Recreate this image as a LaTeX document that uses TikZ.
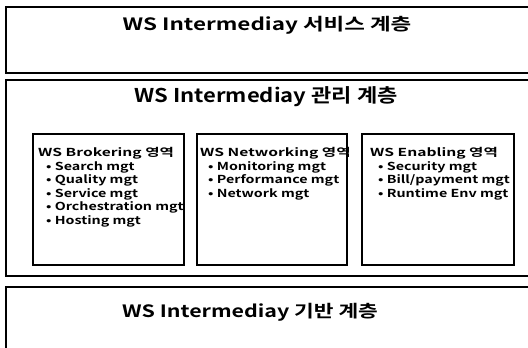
\documentclass[tikz,border=0pt]{standalone}
\usepackage{fontspec}
\setmainfont{Noto Sans CJK KR}[BoldFont=* Bold]
\newfontfamily\listfont{Noto Sans CJK KR Bold}[FakeStretch=1.42]
\newfontfamily\itemfont{Noto Sans CJK KR Bold}[FakeStretch=1.3]
\newfontfamily\titlefontA{Noto Sans CJK KR Bold}[FakeStretch=1.32]
\newfontfamily\titlefontB{Noto Sans CJK KR Bold}[FakeStretch=1.16]
\newfontfamily\titlefontC{Noto Sans CJK KR Bold}[FakeStretch=1.26]
\newcommand{\itm}[1]{\hspace*{8pt}{\itemfont • #1}}
\begin{document}
\begin{tikzpicture}[x=1pt,y=-1pt,
  layer/.style={draw=black,line width=1.6pt},
  area/.style={draw=black,line width=1.4pt},
  titleA/.style={font=\titlefontA\fontsize{17}{20}\selectfont,inner sep=0pt},
  titleB/.style={font=\titlefontB\fontsize{19}{22}\selectfont,inner sep=0pt},
  titleC/.style={font=\titlefontC\fontsize{17}{20}\selectfont,inner sep=0pt},
  list/.style={font=\listfont\fontsize{11}{13.6}\selectfont,align=left,anchor=north west,inner sep=0pt}]
\useasboundingbox (0,0) rectangle (528,348);
% outer layers (open to the right)
\draw[layer] (540,7) -- (6,7) -- (6,73) -- (540,73);
\draw[layer] (540,80) -- (6,80) -- (6,276) -- (540,276);
\draw[layer] (540,287) -- (6,287) -- (6,360);
\node[titleA] (t1) at (267,25) {WS Intermediay 서비스 계층};
\node[titleB] (t2) at (266,97) {WS Intermediay 관리 계층};
\node[titleC] (t3) at (250,312) {WS Intermediay 기반 계층};
% inner areas
\draw[area] (33,134) rectangle (184,265);
\draw[area] (197,134) rectangle (347,265);
\draw[area] (362,134) rectangle (514,265);
\node[list] (a1) at (38,147) {WS Brokering 영역\\\itm{Search mgt}\\\itm{Quality mgt}\\\itm{Service mgt}\\\itm{Orchestration mgt}\\\itm{Hosting mgt}};
\node[list] (a2) at (200,147) {WS Networking 영역\\\itm{Monitoring mgt}\\\itm{Performance mgt}\\\itm{Network mgt}};
\node[list] (a3) at (370,147) {WS Enabling 영역\\\itm{Security mgt}\\\itm{Bill/payment mgt}\\\itm{Runtime Env mgt}};
\end{tikzpicture}
\end{document}
